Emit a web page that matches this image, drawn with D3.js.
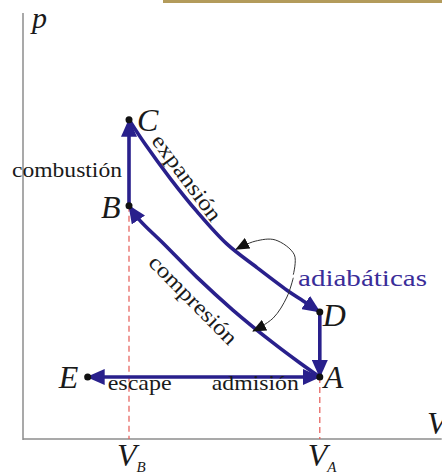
<!DOCTYPE html>
<html>
<head>
<meta charset="utf-8">
<script src="https://cdn.jsdelivr.net/npm/d3@7"></script>
<style>
  body { margin: 0; background: #fff; }
  svg { display: block; }
  text { font-family: "Liberation Serif", "Times New Roman", serif; fill: #1a1a1a; }
</style>
</head>
<body>
<div id="chart"></div>
<script>
// state points of the cycle (V, p) in arbitrary units
const pointNames = ["A", "B", "C", "D", "E"];
const pointV = [2.8, 1.0, 1.0, 2.8, 0.61];
const pointP = [1.0, 3.76, 5.15, 2.05, 1.0];

// adiabatic curves
const expansionV = [1.0, 1.15, 1.39, 1.64, 1.92, 2.21, 2.49, 2.64, 2.8];
const expansionP = [5.15, 4.76, 4.20, 3.67, 3.15, 2.76, 2.40, 2.23, 2.05];
const compressionV = [2.8, 2.61, 2.36, 1.98, 1.64, 1.32, 1.10, 1.0];
const compressionP = [1.0, 1.23, 1.55, 2.08, 2.61, 3.16, 3.53, 3.76];

// thin pointer arrows from the "adiabáticas" label
const upperPointerV = [2.55, 2.56, 2.38, 2.19, 2.01];
const upperPointerP = [2.65, 2.97, 3.21, 3.19, 3.06];
const lowerPointerV = [2.55, 2.49, 2.36, 2.17];
const lowerPointerP = [2.60, 2.29, 1.95, 1.74];

const processNames = ["admisión", "compresión", "combustión", "expansión", "escape"];
const annotationText = "adiabáticas";
const axisNames = ["p", "V"];
const tickNames = ["B", "A"];
const tickV = [1.0, 2.8];

const width = 442, height = 475;
const navy = "#29208c";

const svg = d3.select("#chart").append("svg")
  .attr("width", width)
  .attr("height", height);

const x = d3.scaleLinear().domain([0, 3.95]).range([23, 441.7]);
const y = d3.scaleLinear().domain([0, 6.87]).range([439, 13]);

const pt = name => {
  let i = pointNames.indexOf(name);
  return [x(pointV[i]), y(pointP[i])];
};

// decorative bar at the top
svg.append("rect")
  .attr("x", 163).attr("y", 0)
  .attr("width", width - 163).attr("height", 3)
  .attr("fill", "#b39b5b");

// markers
let defs = svg.append("defs");
defs.append("marker")
  .attr("id", "arrowBlue")
  .attr("viewBox", "0 0 18 16")
  .attr("markerUnits", "userSpaceOnUse")
  .attr("markerWidth", 18).attr("markerHeight", 16)
  .attr("refX", 17).attr("refY", 8)
  .attr("orient", "auto-start-reverse")
  .append("path")
  .attr("d", "M0,0 L18,8 L0,16 Z")
  .attr("fill", navy);

defs.append("marker")
  .attr("id", "arrowBlack")
  .attr("viewBox", "0 0 14 12")
  .attr("markerUnits", "userSpaceOnUse")
  .attr("markerWidth", 14).attr("markerHeight", 12)
  .attr("refX", 13).attr("refY", 6)
  .attr("orient", "auto")
  .append("path")
  .attr("d", "M0,0 L14,6 L0,12 Z")
  .attr("fill", "#111");

// axes
svg.append("line")
  .attr("x1", x(0)).attr("x2", x(0))
  .attr("y1", y(6.87)).attr("y2", y(0) + 1)
  .attr("stroke", "#8c8c8c").attr("stroke-width", 1.5);
svg.append("line")
  .attr("x1", x(0)).attr("x2", x(3.95))
  .attr("y1", y(0)).attr("y2", y(0))
  .attr("stroke", "#8c8c8c").attr("stroke-width", 1.5);

// dashed guides down to the volume axis
tickV.forEach((v, i) => {
  let p = i === 0 ? pointP[1] : pointP[0];
  svg.append("line")
    .attr("x1", x(v)).attr("x2", x(v))
    .attr("y1", y(p)).attr("y2", y(0))
    .attr("stroke", "#e55a55")
    .attr("stroke-width", 1.2)
    .attr("stroke-dasharray", "6,4");
});

let smooth = d3.line()
  .x(d => x(d[0]))
  .y(d => y(d[1]))
  .curve(d3.curveCatmullRom.alpha(0.5));

let cycle = svg.append("g")
  .attr("fill", "none")
  .attr("stroke", navy)
  .attr("stroke-width", 3.6);

// admisión / escape (arrows both ways)
cycle.append("line")
  .attr("x1", pt("E")[0]).attr("y1", pt("E")[1])
  .attr("x2", pt("A")[0]).attr("y2", pt("A")[1])
  .attr("marker-start", "url(#arrowBlue)")
  .attr("marker-end", "url(#arrowBlue)");

// compresión A -> B
cycle.append("path")
  .attr("d", smooth(compressionV.map((v, i) => [v, compressionP[i]])))
  .attr("marker-end", "url(#arrowBlue)");

// combustión B -> C
cycle.append("line")
  .attr("x1", pt("B")[0]).attr("y1", pt("B")[1])
  .attr("x2", pt("C")[0]).attr("y2", pt("C")[1])
  .attr("marker-end", "url(#arrowBlue)");

// expansión C -> D
cycle.append("path")
  .attr("d", smooth(expansionV.map((v, i) => [v, expansionP[i]])))
  .attr("marker-end", "url(#arrowBlue)");

// D -> A
cycle.append("line")
  .attr("x1", pt("D")[0]).attr("y1", pt("D")[1])
  .attr("x2", pt("A")[0]).attr("y2", pt("A")[1])
  .attr("marker-end", "url(#arrowBlue)");

// thin pointers
[[upperPointerV, upperPointerP], [lowerPointerV, lowerPointerP]].forEach(([vs, ps]) => {
  svg.append("path")
    .attr("d", smooth(vs.map((v, i) => [v, ps[i]])))
    .attr("fill", "none")
    .attr("stroke", "#333")
    .attr("stroke-width", 1)
    .attr("marker-end", "url(#arrowBlack)");
});

// state points
svg.selectAll("circle.state")
  .data(pointNames)
  .enter()
  .append("circle")
  .attr("class", "state")
  .attr("cx", d => pt(d)[0])
  .attr("cy", d => pt(d)[1])
  .attr("r", 3.5)
  .attr("fill", "#111");

// point letters
let letterOffset = { A: [4, 11], B: [-28, 12], C: [8, 11], D: [3, 14], E: [-29, 11] };
svg.selectAll("text.state")
  .data(pointNames)
  .enter()
  .append("text")
  .attr("class", "state")
  .attr("x", d => pt(d)[0] + letterOffset[d][0])
  .attr("y", d => pt(d)[1] + letterOffset[d][1])
  .attr("font-size", 32)
  .attr("font-style", "italic")
  .text(d => d);

// axis names
svg.append("text")
  .attr("x", x(0) + 9).attr("y", 28)
  .attr("font-size", 30).attr("font-style", "italic")
  .text(axisNames[0]);
svg.append("text")
  .attr("x", 427).attr("y", 434)
  .attr("font-size", 32).attr("font-style", "italic")
  .text(axisNames[1]);

// V_B, V_A
tickV.forEach((v, i) => {
  let t = svg.append("text")
    .attr("x", x(v) - 12).attr("y", 466)
    .attr("font-size", 32).attr("font-style", "italic");
  t.append("tspan").text("V");
  t.append("tspan")
    .attr("font-size", 15)
    .attr("dx", 0).attr("dy", 6)
    .text(tickNames[i]);
});

// process names
let A = pt("A"), E = pt("E"), B = pt("B"), C = pt("C");
svg.append("text")
  .attr("x", x(0) - 11).attr("y", (B[1] + C[1]) / 2 + 14)
  .attr("font-size", 22)
  .attr("textLength", 110).attr("lengthAdjust", "spacingAndGlyphs")
  .text(processNames[2]);

svg.append("text")
  .attr("x", E[0] + 20).attr("y", A[1] + 13)
  .attr("font-size", 22)
  .attr("textLength", 64).attr("lengthAdjust", "spacingAndGlyphs")
  .text(processNames[4]);

svg.append("text")
  .attr("x", A[0] - 108).attr("y", A[1] + 13)
  .attr("font-size", 22)
  .attr("textLength", 87).attr("lengthAdjust", "spacingAndGlyphs")
  .text(processNames[0]);

svg.append("text")
  .attr("transform", "translate(181,182) rotate(53.5)")
  .attr("text-anchor", "middle")
  .attr("font-size", 22)
  .attr("textLength", 102).attr("lengthAdjust", "spacingAndGlyphs")
  .text(processNames[3]);

svg.append("text")
  .attr("transform", "translate(188,305) rotate(45.4)")
  .attr("text-anchor", "middle")
  .attr("font-size", 22)
  .attr("textLength", 116).attr("lengthAdjust", "spacingAndGlyphs")
  .text(processNames[1]);

svg.append("text")
  .attr("x", 298).attr("y", 286)
  .attr("font-size", 23)
  .attr("textLength", 129).attr("lengthAdjust", "spacingAndGlyphs")
  .style("fill", "#3a2d99")
  .text(annotationText);
</script>
</body>
</html>
